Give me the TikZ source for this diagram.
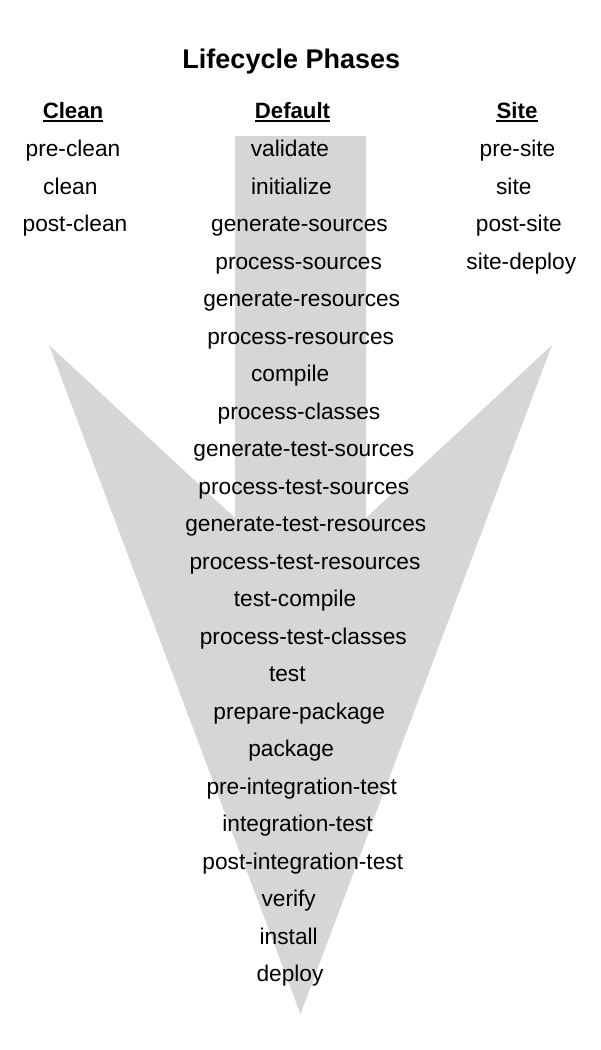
\documentclass[tikz,border=0pt]{standalone}
\usepackage{fontspec}
\setmainfont{Liberation Sans}
\definecolor{phasegray}{RGB}{214,214,214}
\begin{document}
\begin{tikzpicture}[x=1pt,y=-1pt,
  phase/.style={anchor=base,inner sep=0pt,font=\fontsize{22.7}{27}\selectfont},
  head/.style={anchor=base,inner sep=0pt,font=\fontsize{22.2}{27}\selectfont\bfseries},
  titlebox/.style={anchor=base,inner sep=0pt,font=\fontsize{27}{32}\selectfont\bfseries},
  uline/.style={line width=2pt},
  arrowshape/.style={fill=phasegray,draw=none}]
\useasboundingbox (0,0) rectangle (600,1050);
\path[arrowshape] (235,136) -- (366,136) -- (366,518) -- (552,345) -- (300.5,1014)
  -- (49,345) -- (235,518) -- cycle;
\node[titlebox] (title) at (291.3,68.3) {Lifecycle Phases};
\node[head] (hclean) at (73,118.5) {Clean};
\node[head] (hdefault) at (292.5,118.5) {Default};
\node[head] (hsite) at (517,118.5) {Site};
\foreach \h in {hclean,hdefault,hsite}
  \draw[uline] ([yshift=-2.8pt]\h.base west) -- ([yshift=-2.8pt]\h.base east);
\foreach \cx/\txt [count=\i from 0] in {73/pre-clean,70.3/clean,75/post-clean}
  \node[phase] (c\i) at (\cx,{156.7+37.5*\i}) {\txt};
\foreach \cx/\txt [count=\i from 0] in {517.5/pre-site,513.8/site,518.8/post-site,521.3/site-deploy}
  \node[phase] (s\i) at (\cx,{156.7+37.5*\i}) {\txt};
\foreach \cx/\txt [count=\i from 0] in {
  290/validate, 291.5/initialize, 299.5/generate-sources, 298.7/process-sources,
  301.7/generate-resources, 300.7/process-resources, 290.2/compile,
  299/process-classes, 303.8/generate-test-sources, 303.8/process-test-sources,
  305.8/generate-test-resources, 305/process-test-resources, 295/test-compile,
  303.3/process-test-classes, 287.3/test, 299.2/prepare-package, 291.2/package,
  301.8/pre-integration-test, 297.5/integration-test, 302.8/post-integration-test,
  288.7/verify, 288.7/install, 290/deploy}
  \node[phase] (d\i) at (\cx,{156.7+37.5*\i}) {\txt};
\end{tikzpicture}
\end{document}
